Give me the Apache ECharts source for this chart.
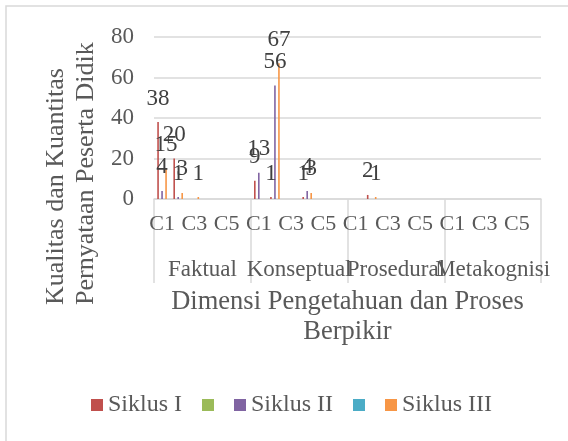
<!DOCTYPE html>
<html>
<head>
<meta charset="utf-8">
<script src="https://cdn.jsdelivr.net/npm/echarts@6/dist/echarts.min.js"></script>
<style>
  html, body { margin: 0; padding: 0; background: #fff; }
  #chart { width: 568px; height: 441px; }
</style>
</head>
<body>
<div id="chart"></div>
<script>
// dimensi pengetahuan & level proses berpikir
var dimensions = ['Faktual', 'Konseptual', 'Prosedural', 'Metakognisi'];
var levels = ['C1', 'C2', 'C3', 'C4', 'C5', 'C6'];
var categories = [];
dimensions.forEach(function (d) {
    levels.forEach(function (c) { categories.push(c); });
});

var yTicks = [0, 20, 40, 60, 80];

// nilai tiap siklus (null = sel kosong)
var siklus1 = [38, 20, null, null, null, null,   9, 1, null, 1, null, null,   null, 2, null, null, null, null,   null, null, null, null, null, null];
var kosong1 = [null, null, null, null, null, null, null, null, null, null, null, null, null, null, null, null, null, null, null, null, null, null, null, null];
var siklus2 = [4, 1, null, null, null, null,   13, 56, null, 4, null, null,   null, null, null, null, null, null,   null, null, null, null, null, null];
var kosong2 = [null, null, null, null, null, null, null, null, null, null, null, null, null, null, null, null, null, null, null, null, null, null, null, null];
var siklus3 = [15, 3, 1, null, null, null,   null, 67, null, 3, null, null,   null, 1, null, null, null, null,   null, null, null, null, null, null];

var seriesNames = ['Siklus I', '_a', 'Siklus II', '_b', 'Siklus III'];
var seriesData = [siklus1, kosong1, siklus2, kosong2, siklus3];
var colors = ['#C0504D', '#9BBB59', '#8064A2', '#4BACC6', '#F79646'];

var font = "'Liberation Serif', 'Times New Roman', serif";
var gridColor = '#d9d9d9';

var chart = echarts.init(document.getElementById('chart'));

var series = seriesNames.map(function (name, i) {
    return {
        name: name,
        type: 'bar',
        xAxisIndex: 0,
        data: seriesData[i],
        barWidth: 1.6,
        barGap: '25%',
        itemStyle: { color: colors[i] },
        label: {
            show: true,
            position: 'top',
            distance: 12,
            fontFamily: font,
            fontSize: 23,
            color: '#404040'
        }
    };
});

chart.setOption({
    animation: false,
    color: colors,
    textStyle: { fontFamily: font },
    grid: { left: 154, right: 27, top: 37, height: 162 },
    graphic: [
        {
            type: 'rect',
            shape: { x: 6, y: 6, width: 700, height: 600 },
            style: { fill: 'none', stroke: gridColor, lineWidth: 1.5 },
            silent: true
        },
        {
            type: 'text',
            x: 41,
            y: 305,
            rotation: Math.PI / 2,
            style: {
                text: 'Kualitas dan Kuantitas\nPernyataan Peserta Didik',
                fontFamily: font,
                fontSize: 26,
                lineHeight: 30,
                fill: '#595959',
                align: 'left',
                verticalAlign: 'top'
            }
        }
    ],
    legend: {
        left: 86,
        top: 388,
        itemWidth: 12,
        itemHeight: 12,
        itemGap: 20,
        icon: 'rect',
        data: seriesNames,
        // seri tanpa nama: hanya kotak warna
        formatter: function (name) { return name.charAt(0) === '_' ? '' : name; },
        textStyle: { fontFamily: font, fontSize: 24, color: '#595959' }
    },
    xAxis: [
        {
            type: 'category',
            data: categories,
            axisLine: { show: true, lineStyle: { color: gridColor, width: 1.5 } },
            axisTick: { show: false },
            axisLabel: {
                interval: 1,
                margin: 14,
                fontFamily: font,
                fontSize: 22,
                color: '#595959'
            }
        },
        {
            type: 'category',
            position: 'bottom',
            data: dimensions,
            axisLine: { show: false },
            axisTick: { show: true, length: 84, lineStyle: { color: gridColor, width: 1.5 } },
            axisLabel: {
                interval: 0,
                margin: 59,
                fontFamily: font,
                fontSize: 23,
                color: '#595959'
            },
            name: 'Dimensi Pengetahuan dan Proses\nBerpikir',
            nameLocation: 'middle',
            nameGap: 88,
            nameTextStyle: {
                fontFamily: font,
                fontSize: 26.5,
                lineHeight: 30,
                color: '#595959'
            }
        }
    ],
    yAxis: {
        type: 'value',
        min: yTicks[0],
        max: yTicks[yTicks.length - 1],
        interval: 20,
        axisLine: { show: false },
        axisTick: { show: false },
        splitLine: { lineStyle: { color: gridColor, width: 1.5 } },
        axisLabel: {
            margin: 20,
            fontFamily: font,
            fontSize: 23,
            color: '#595959'
        }
    },
    series: series
});
</script>
</body>
</html>
